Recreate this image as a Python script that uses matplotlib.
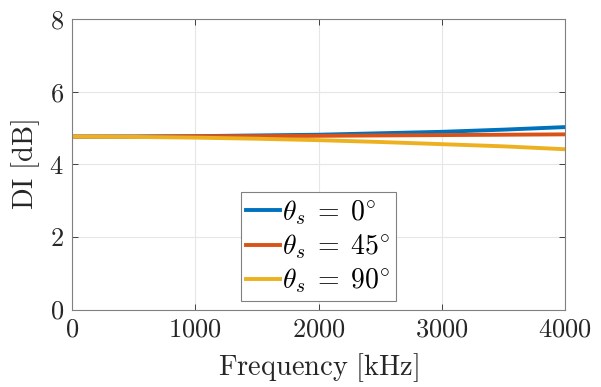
import matplotlib
matplotlib.use("Agg")
import matplotlib.pyplot as plt
import numpy as np

plt.rcParams["mathtext.fontset"] = "cm"
plt.rcParams["font.family"] = "serif"
plt.rcParams["font.serif"] = ["cmr10"]
plt.rcParams["axes.formatter.use_mathtext"] = True

freq = [0, 500, 1000, 1500, 2000, 2500, 3000, 3500, 4000]
di_0 = [4.77, 4.77, 4.78, 4.80, 4.82, 4.86, 4.90, 4.96, 5.03]
di_45 = [4.77, 4.77, 4.78, 4.78, 4.79, 4.80, 4.81, 4.82, 4.83]
di_90 = [4.77, 4.76, 4.74, 4.71, 4.67, 4.62, 4.56, 4.50, 4.42]
labels = [r"$\theta_s\;=\;0^{\circ}$", r"$\theta_s\;=\;45^{\circ}$", r"$\theta_s\;=\;90^{\circ}$"]
colors = ["#0072BD", "#D95319", "#EDB120"]

fig = plt.figure(figsize=(6.01, 3.87), dpi=100)
ax = fig.add_axes([0.12, 0.2, 0.82, 0.75])

for y, lab, c in zip([di_0, di_45, di_90], labels, colors):
    ax.plot(freq, y, color=c, linewidth=2.8, label=lab)

ax.set_xlim(0, 4000)
ax.set_ylim(0, 8)
ax.set_xticks([0, 1000, 2000, 3000, 4000])
ax.set_yticks([0, 2, 4, 6, 8])
ax.tick_params(direction="in", top=True, right=True, labelsize=19, colors="#262626",
               length=4, width=0.6, pad=6)
for s in ax.spines.values():
    s.set_color("#808080")
    s.set_linewidth(0.8)
ax.grid(True, color="#e6e6e6", linewidth=0.8)
ax.set_axisbelow(True)

ax.set_xlabel(r"$\mathrm{Frequency\ [kHz]}$", fontsize=20.5, color="#262626", labelpad=7)
ax.set_ylabel(r"$\mathrm{DI\ [dB]}$", fontsize=20.5, color="#262626", labelpad=5)

leg = ax.legend(loc="lower center", bbox_to_anchor=(0.5, 0.03), fontsize=20,
                handlelength=1.2, handletextpad=0.1, borderpad=0.2, labelspacing=0.2,
                borderaxespad=0.0, fancybox=False, framealpha=1)
leg.get_frame().set_edgecolor("#808080")
leg.get_frame().set_linewidth(0.8)

fig.savefig("out.png", dpi=100)
